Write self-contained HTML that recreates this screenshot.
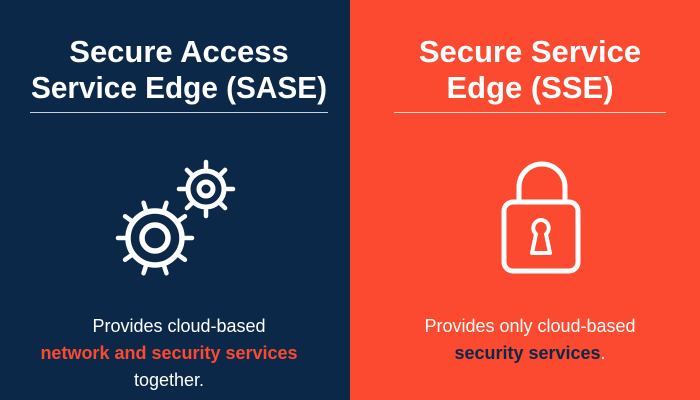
<!DOCTYPE html>
<html><head><meta charset="utf-8"><style>
html,body{margin:0;padding:0;width:700px;height:400px;overflow:hidden}
svg{display:block}
text{font-family:"Liberation Sans",sans-serif}
</style></head><body>
<svg width="700" height="400" viewBox="0 0 700 400">
<rect x="0" y="0" width="350" height="400" fill="#0c2848"/>
<rect x="350" y="0" width="350" height="400" fill="#fb4a2f"/>
<g fill="#fff" font-weight="bold" font-size="31" text-anchor="middle">
<text x="179" y="62">Secure Access</text>
<text x="179" y="98" textLength="296" lengthAdjust="spacingAndGlyphs">Service Edge (SASE)</text>
<text x="530" y="62">Secure Service</text>
<text x="530" y="98">Edge (SSE)</text>
</g>
<line x1="30" y1="112.5" x2="328" y2="112.5" stroke="#c9d0da" stroke-width="1"/>
<line x1="394" y1="112.5" x2="666" y2="112.5" stroke="#ffd9d2" stroke-width="1"/>
<!-- gears -->
<g stroke="#fff" fill="none" stroke-linecap="round">
<circle cx="155" cy="238" r="27" stroke-width="5.5"/>
<circle cx="155" cy="238" r="13" stroke-width="5.5"/>
<g stroke-width="4.5">
<line x1="155" y1="208" x2="155" y2="201" transform="rotate(18 155 238)"/>
<line x1="155" y1="208" x2="155" y2="201" transform="rotate(54 155 238)"/>
<line x1="155" y1="208" x2="155" y2="201" transform="rotate(90 155 238)"/>
<line x1="155" y1="208" x2="155" y2="201" transform="rotate(126 155 238)"/>
<line x1="155" y1="208" x2="155" y2="201" transform="rotate(162 155 238)"/>
<line x1="155" y1="208" x2="155" y2="201" transform="rotate(198 155 238)"/>
<line x1="155" y1="208" x2="155" y2="201" transform="rotate(234 155 238)"/>
<line x1="155" y1="208" x2="155" y2="201" transform="rotate(270 155 238)"/>
<line x1="155" y1="208" x2="155" y2="201" transform="rotate(306 155 238)"/>
<line x1="155" y1="208" x2="155" y2="201" transform="rotate(342 155 238)"/>
</g>
<circle cx="206" cy="189" r="18" stroke-width="5"/>
<circle cx="206" cy="189" r="7" stroke-width="5"/>
<g stroke-width="4.5">
<line x1="206" y1="168" x2="206" y2="162" transform="rotate(0 206 189)"/>
<line x1="206" y1="168" x2="206" y2="162" transform="rotate(45 206 189)"/>
<line x1="206" y1="168" x2="206" y2="162" transform="rotate(90 206 189)"/>
<line x1="206" y1="168" x2="206" y2="162" transform="rotate(135 206 189)"/>
<line x1="206" y1="168" x2="206" y2="162" transform="rotate(180 206 189)"/>
<line x1="206" y1="168" x2="206" y2="162" transform="rotate(225 206 189)"/>
<line x1="206" y1="168" x2="206" y2="162" transform="rotate(270 206 189)"/>
<line x1="206" y1="168" x2="206" y2="162" transform="rotate(315 206 189)"/>
</g>
</g>
<!-- lock -->
<g stroke="#fff" fill="none" stroke-width="5" stroke-linejoin="round">
<path d="M519 201 V187 A23 23 0 0 1 565 187 V201"/>
<rect x="504" y="202" width="74" height="69" rx="9"/>
<path d="M541 220 a8 8 0 0 1 5 14 l4 19 h-18 l4 -19 a8 8 0 0 1 5 -14 z" stroke-width="4"/>
</g>
<g font-size="18" text-anchor="middle" fill="#fff">
<text x="179" y="332">Provides cloud-based</text>
<text x="169" y="359" fill="#fb4a2f" font-weight="bold">network and security services</text>
<text x="169" y="386">together.</text>
<text x="530" y="332">Provides only cloud-based</text>
<text x="530" y="359"><tspan fill="#0c2848" font-weight="bold">security services</tspan>.</text>
</g>
</svg>
</body></html>
